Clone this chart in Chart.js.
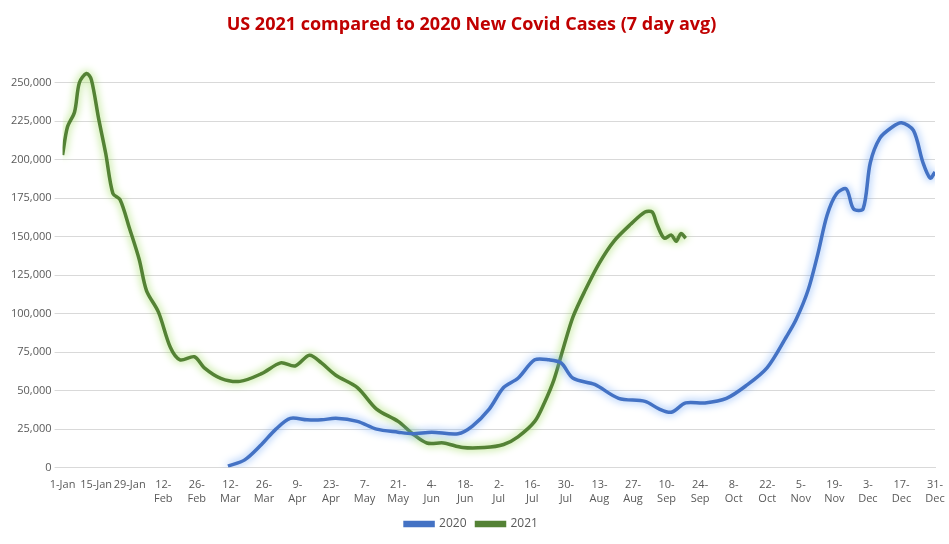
<!DOCTYPE html>
<html><head><meta charset="utf-8">
<script src="https://cdn.jsdelivr.net/npm/chart.js@4.4.0/dist/chart.umd.min.js"></script>
<style>html,body{margin:0;background:#fff}#w{width:949px;height:544px}</style>
</head><body><div id="w"><canvas id="c"></canvas></div>
<script>
const tickLabels=["1-Jan","15-Jan","29-Jan","12-Feb","26-Feb","12-Mar","26-Mar","9-Apr","23-Apr","7-May","21-May","4-Jun","18-Jun","2-Jul","16-Jul","30-Jul","13-Aug","27-Aug","10-Sep","24-Sep","8-Oct","22-Oct","5-Nov","19-Nov","3-Dec","17-Dec","31-Dec"];
const yTicks=[0,25000,50000,75000,100000,125000,150000,175000,200000,225000,250000];
const days2021=[0,2,5,7,10,12,15,18,21,24,28,32,35,40,45,49,55,59,66,74,83,91,97,103,108,114,123,131,140,146,152,159,167,176,184,190,197,201,205,209,213,218,224,230,237,243,246,248,251,254,256,258,260];
const vals2021=[203000,221000,231000,250000,256000,252000,227000,204000,178000,174000,155000,135000,115000,101000,78000,70000,72000,65000,58000,56000,61000,68000,66000,73000,68000,60000,52000,38000,30000,22000,16000,16000,13000,13000,15000,20000,30000,42000,57000,78000,98000,115000,133000,147000,158000,166000,166000,158000,149000,151000,147000,152000,149000];
const days2020=[69,76,83,89,95,102,108,114,123,131,140,146,154,165,171,178,184,190,197,203,208,213,222,232,243,249,254,260,268,277,285,294,302,306,311,315,319,323,327,330,334,337,341,346,350,355,359,362,364];
const vals2020=[1000,5000,15000,25000,32000,31000,31000,32000,30000,25000,23000,22000,23000,22000,27000,38000,52000,58000,70000,70000,68000,58000,54000,45000,43000,38000,36000,42000,42000,45000,53000,65000,85000,96000,115000,138000,164000,178000,181000,168000,168000,198000,214000,221000,224000,219000,198000,188000,192000];
const pts=(d,v)=>d.map((x,i)=>({x,y:v[i]}));
const glow={id:'glow',beforeDatasetDraw(ch,a){const c=ch.ctx;c.save();c.shadowColor=a.index===0?'rgba(110,165,245,1)':'rgba(150,215,80,1)';c.shadowBlur=8;},afterDatasetDraw(ch){ch.ctx.restore();}};
new Chart(document.getElementById('c'),{type:'line',
data:{datasets:[
{label:'2020',data:pts(days2020,vals2020),borderColor:'#4472C4',backgroundColor:'#4472C4',borderWidth:3.5,pointRadius:0,tension:0.3},
{label:'2021',data:pts(days2021,vals2021),borderColor:'#548235',backgroundColor:'#548235',borderWidth:3.5,pointRadius:0,tension:0.3}]},
options:{responsive:true,maintainAspectRatio:false,animation:false,
layout:{padding:{left:8,right:14,top:6,bottom:4}},
plugins:{title:{display:true,text:'US 2021 compared to 2020 New Covid Cases (7 day avg)',color:'#C00000',font:{family:'Open Sans',size:18,weight:'bold'},padding:{top:8,bottom:24}},
legend:{position:'bottom',labels:{boxWidth:28,boxHeight:3,color:'#595959',font:{family:'Open Sans',size:12}}},tooltip:{enabled:false}},
scales:{x:{type:'linear',min:0,max:364,grid:{display:false},border:{color:'#d9d9d9'},
ticks:{stepSize:14,autoSkip:false,maxRotation:0,color:'#595959',font:{family:'Open Sans',size:11},
callback:(v)=>{const i=Math.round(v/14);const s=tickLabels[i];if(s===undefined)return '';return i<3?s:s.replace('-','-\n').split('\n');}}},
y:{min:0,max:265000,grid:{color:'#d9d9d9'},border:{display:false},
afterBuildTicks:(ax)=>{ax.ticks=yTicks.map(v=>({value:v}));},
ticks:{color:'#595959',font:{family:'Open Sans',size:11},callback:v=>v.toLocaleString('en-US')}}}},
plugins:[glow]});
</script></body></html>
